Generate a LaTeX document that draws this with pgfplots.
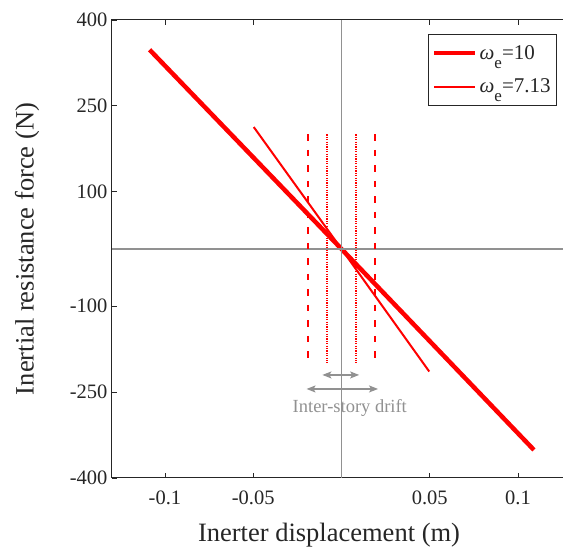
\documentclass[border=0pt]{standalone}
\usepackage{fontspec}
\setmainfont{Liberation Serif}
\usepackage{pgfplots}
\pgfplotsset{compat=1.18}
\usetikzlibrary{arrows.meta}
\definecolor{axgray}{RGB}{38,38,38}
\definecolor{lgray}{RGB}{145,145,145}
\definecolor{myred}{RGB}{255,0,0}
\newcommand{\we}{{\itshape ω}\raisebox{-9pt}{\fontsize{17}{17}\selectfont e}}
\begin{document}
\begin{tikzpicture}
\begin{axis}[
  scale only axis, width=459pt, height=458pt,
  xmin=-0.13, xmax=0.13, ymin=-400, ymax=400,
  xtick={-0.1,-0.05,0.05,0.1}, xticklabels={-0.1,-0.05,0.05,0.1},
  ytick={-400,-250,-100,100,250,400}, yticklabels={-400,-250,-100,100,250,400},
  tick align=inside, major tick length=5pt,
  axis line style={axgray, line width=1pt},
  every tick/.style={axgray, line width=0.8pt},
  ticklabel style={font=\fontsize{20.5}{24}\selectfont, text=axgray},
  xticklabel style={yshift=-9pt},
  yticklabel style={xshift=-1pt},
  xlabel={Inerter displacement (m)},
  ylabel={Inertial resistance force (N)},
  label style={font=\fontsize{26.5}{32}\selectfont, text=axgray},
  xlabel style={at={(axis description cs:0.4728,-0.1391)}, anchor=base},
  ylabel style={at={(axis description cs:-0.1852,0.5)}, anchor=center},
  legend style={at={(axis description cs:1,1)}, anchor=north east,
    xshift=-14pt, yshift=-14pt, draw=axgray, line width=0.8pt,
    font=\fontsize{21}{25}\selectfont, text=axgray,
    inner xsep=4pt, inner ysep=9pt, row sep=14pt},
  legend cell align=left,
  legend image code/.code={\draw[#1] (0pt,0pt) -- (41pt,0pt);},
]
\coordinate (SW) at (rel axis cs:0,0);
\coordinate (NE) at (rel axis cs:1,1);
\addplot[myred, line width=4.5pt] coordinates {(-0.1087,348) (0,0) (0.109,-351)};
\addlegendentry{\we=10}
\addplot[myred, line width=2pt] coordinates {(-0.0497,213) (0,0) (0.0497,-214)};
\addlegendentry{\we=7.13}
% reference axes
\addplot[lgray, line width=1.3pt, forget plot] coordinates {(0,-400) (0,400)};
\addplot[lgray, line width=1.3pt, forget plot] coordinates {(-0.13,0) (0.13,0)};
% drift limits
\addplot[myred, line width=2.9pt, dash pattern=on 6.5pt off 9pt, forget plot] coordinates {(-0.019,200) (-0.019,-200)};
\addplot[myred, line width=2.9pt, dash pattern=on 6.5pt off 9pt, forget plot] coordinates {(0.019,200) (0.019,-200)};
\addplot[myred, line width=1.5pt, dash pattern=on 1.2pt off 1.2pt, forget plot] coordinates {(-0.0081,200) (-0.0081,-200)};
\addplot[myred, line width=1.5pt, dash pattern=on 1.2pt off 1.2pt, forget plot] coordinates {(0.0083,200) (0.0083,-200)};
% arrows
\addplot[lgray, line width=1.2pt, {Stealth[length=9pt,width=7pt,inset=2pt]}-{Stealth[length=9pt,width=7pt,inset=2pt]}, forget plot] coordinates {(-0.0108,-220) (0.0100,-220)};
\addplot[lgray, line width=1.2pt, {Stealth[length=9pt,width=7pt,inset=2pt]}-{Stealth[length=9pt,width=7pt,inset=2pt]}, forget plot] coordinates {(-0.0198,-244.5) (0.0207,-244.5)};
\node[text=lgray, font=\fontsize{18.5}{22}\selectfont] at (axis cs:0.0047,-278) {Inter-story drift};
\end{axis}
\pgfresetboundingbox
\path[use as bounding box] ([xshift=-112pt,yshift=-72pt]SW) rectangle ([xshift=-8pt,yshift=20pt]NE);
\end{tikzpicture}
\end{document}
